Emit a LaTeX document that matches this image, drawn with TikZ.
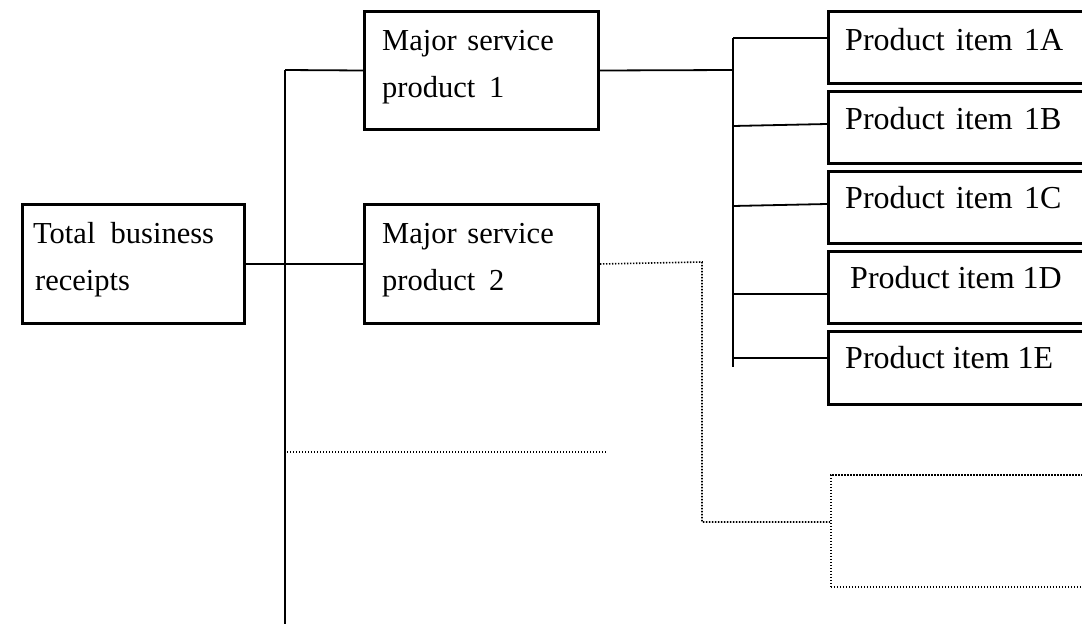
\documentclass[tikz,border=0pt]{standalone}
\usepackage{fontspec}
\setmainfont{Liberation Serif}
\begin{document}
\begin{tikzpicture}[x=1pt,y=-1pt,
  box/.style={draw,line width=3pt,inner sep=0pt,anchor=north west},
  conn/.style={line width=1.8pt},
  dotline/.style={line width=1.6pt,dash pattern=on 1.4pt off 1.6pt},
  dotbox/.style={draw,line width=1.6pt,dash pattern=on 1.4pt off 1.6pt,inner sep=0pt,anchor=north west},
  txt/.style={inner sep=0pt,anchor=base west,font=\fontsize{30.5}{36}\selectfont},
  ptxt/.style={inner sep=0pt,anchor=base west,font=\fontsize{32}{38}\selectfont}]
\clip (0,0) rectangle (1082,624);
\fill[white] (0,0) rectangle (1082,624);
% boxes
\node[box,minimum width=222pt,minimum height=119pt] (tot) at (21,203) {};
\node[box,minimum width=234pt,minimum height=118pt] (m1) at (363,10) {};
\node[box,minimum width=234pt,minimum height=119pt] (m2) at (363,203) {};
\node[box,minimum width=280pt,minimum height=72pt] (pA) at (827,10) {};
\node[box,minimum width=280pt,minimum height=72pt] (pB) at (827,90) {};
\node[box,minimum width=280pt,minimum height=72pt] (pC) at (827,170) {};
\node[box,minimum width=280pt,minimum height=72pt] (pD) at (827,250) {};
\node[box,minimum width=280pt,minimum height=73pt] (pE) at (827,330) {};
\node[dotbox,minimum width=280pt,minimum height=112pt] (dbox) at (830,474) {};
% texts
\node[txt] (tot1) at (33,243) {Total\hspace{0.5em}business};
\node[txt] (tot2) at (35,290) {receipts};
\node[txt] (m1a) at (382,50) {Major\hspace{0.35em}service};
\node[txt] (m1b) at (382,97) {product\hspace{0.45em}1};
\node[txt] (m2a) at (382,243) {Major\hspace{0.35em}service};
\node[txt] (m2b) at (382,290) {product\hspace{0.45em}2};
\node[ptxt] (tA) at (845,50) {Product\hspace{0.35em}item\hspace{0.35em}1A};
\node[ptxt] (tB) at (845,129) {Product\hspace{0.35em}item\hspace{0.35em}1B};
\node[ptxt] (tC) at (845,208) {Product\hspace{0.35em}item\hspace{0.35em}1C};
\node[ptxt] (tD) at (850,288) {Product item 1D};
\node[ptxt] (tE) at (845,368) {Product item 1E};
% coordinates
\coordinate (trTop) at (285,70);
\coordinate (trBot) at (285,626);
\coordinate (dl1) at (287,452);
\coordinate (dl2) at (607,452);
\coordinate (tTop) at (733,38);
\coordinate (tBot) at (733,367);
\coordinate (tJ) at (733,70);
\coordinate (tB1) at (733,126);
\coordinate (tC1) at (733,206);
\coordinate (tD1) at (733,294);
\coordinate (tE1) at (733,358);
\coordinate (dk1) at (702,262);
\coordinate (dk2) at (702,522);
% connectors
\draw[conn] (trTop) -- (trBot);
\draw[conn] (trTop) -- (m1.west);
\draw[conn] (tot.east) -- (m2.west);
\draw[dotline] (dl1) -- (dl2);
\draw[conn] (m1.east) -- (tJ);
\draw[conn] (tTop) -- (tBot);
\draw[conn] (tTop) -- (tTop -| pA.west);
\draw[conn] (tB1) -- ([yshift=2pt]tB1 -| pB.west);
\draw[conn] (tC1) -- ([yshift=2pt]tC1 -| pC.west);
\draw[conn] (tD1) -- (tD1 -| pD.west);
\draw[conn] (tE1) -- (tE1 -| pE.west);
\draw[dotline] (m2.east) -- (dk1) -- (dk2) -- (dk2 -| dbox.west);
\end{tikzpicture}
\end{document}
